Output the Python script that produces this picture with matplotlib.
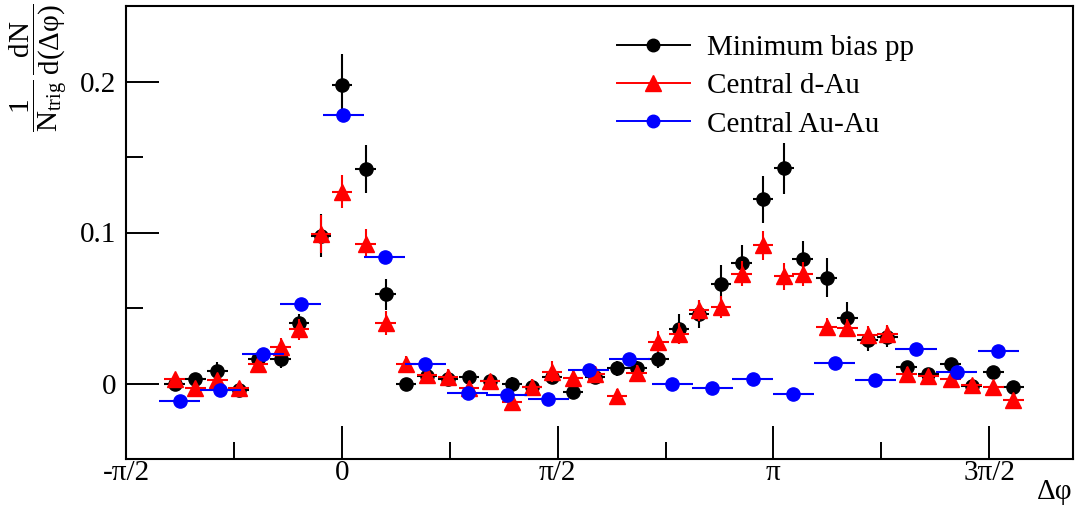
import numpy as np
import matplotlib.pyplot as plt
from matplotlib.lines import Line2D
from matplotlib.ticker import FixedLocator, MultipleLocator

plt.rcParams['font.family'] = ['Liberation Serif', 'DejaVu Serif']
plt.rcParams['mathtext.fontset'] = 'custom'
plt.rcParams['mathtext.rm'] = 'Liberation Serif'
plt.rcParams['mathtext.it'] = 'Liberation Serif:italic'

# delta phi bin centres (rad), pp and d-Au share the fine binning
x_fine = [-1.216, -1.065, -0.905, -0.750, -0.609, -0.446, -0.311, -0.151, 0.000, 0.173,
          0.320, 0.466, 0.619, 0.774, 0.927, 1.078, 1.240, 1.383, 1.529, 1.684,
          1.842, 2.004, 2.146, 2.303, 2.454, 2.601, 2.759, 2.910, 3.067, 3.218,
          3.354, 3.529, 3.679, 3.827, 3.970, 4.111, 4.269, 4.432, 4.585, 4.742, 4.888]

# Minimum bias pp
pp_y = [0.000, 0.003, 0.008, -0.004, 0.0165, 0.016, 0.040, 0.098, 0.198, 0.142,
        0.059, 0.000, 0.005, 0.003, 0.0044, 0.0015, 0.000, -0.002, 0.0044, -0.0055,
        0.0044, 0.010, 0.010, 0.016, 0.036, 0.046, 0.0656, 0.0795, 0.122, 0.1424,
        0.0825, 0.070, 0.0437, 0.0287, 0.031, 0.011, 0.006, 0.0128, -0.0018, 0.0077, -0.0022]
pp_err = [0.003, 0.003, 0.006, 0.003, 0.004, 0.006, 0.006, 0.014, 0.020, 0.016,
          0.0105, 0.003, 0.004, 0.004, 0.004, 0.004, 0.004, 0.004, 0.004, 0.004,
          0.005, 0.005, 0.005, 0.006, 0.010, 0.009, 0.013, 0.012, 0.0157, 0.017,
          0.012, 0.013, 0.0105, 0.007, 0.007, 0.004, 0.003, 0.004, 0.003, 0.003, 0.003]

# Central d-Au
dau_y = [0.003, -0.0027, 0.002, -0.003, 0.013, 0.024, 0.036, 0.099, 0.127, 0.0927,
         0.040, 0.013, 0.0055, 0.0044, -0.0033, 0.0015, -0.012, -0.0022, 0.0079, 0.0037,
         0.0066, -0.0085, 0.0070, 0.0276, 0.033, 0.0485, 0.0507, 0.0728, 0.0916, 0.071,
         0.0724, 0.0375, 0.0366, 0.032, 0.033, 0.0066, 0.0048, 0.0033, -0.0011, -0.0022, -0.011]
dau_err = [0.004, 0.004, 0.004, 0.004, 0.005, 0.006, 0.007, 0.0125, 0.011, 0.0095,
           0.008, 0.005, 0.005, 0.005, 0.005, 0.005, 0.006, 0.005, 0.007, 0.005,
           0.005, 0.005, 0.005, 0.007, 0.007, 0.007, 0.007, 0.008, 0.0097, 0.009,
           0.008, 0.006, 0.006, 0.006, 0.006, 0.004, 0.004, 0.004, 0.004, 0.004, 0.004]

# Central Au-Au (coarser binning)
x_auau = [-1.180, -0.883, -0.573, -0.299, 0.012, 0.311, 0.608, 0.915, 1.201, 1.502,
          1.798, 2.093, 2.406, 2.696, 2.990, 3.286, 3.587, 3.883, 4.179, 4.475, 4.778]
auau_y = [-0.0115, -0.0044, 0.0194, 0.0527, 0.178, 0.0836, 0.0127, -0.0062, -0.0073, -0.0104,
          0.0090, 0.0159, -0.0004, -0.0027, 0.0033, -0.0071, 0.0135, 0.0022, 0.0227, 0.0077, 0.0216]

fine_half = 0.075
coarse_half = 0.15

fig = plt.figure(figsize=(10.75, 5.08), dpi=100)
ax = fig.add_axes([126 / 1075, 49 / 508, 947 / 1075, 453 / 508])

ax.errorbar(x_fine, pp_y, yerr=pp_err, xerr=fine_half, fmt='o', color='black',
            ms=9.5, elinewidth=1.5, capsize=0, zorder=3)
ax.errorbar(x_fine, dau_y, yerr=dau_err, xerr=fine_half, fmt='^', color='#ff0000',
            ms=11, elinewidth=1.5, capsize=0, zorder=4)
ax.errorbar(x_auau, auau_y, xerr=coarse_half, fmt='o', color='#0000ff',
            ms=9.5, elinewidth=1.5, capsize=0, zorder=5)

ax.set_xlim(-np.pi / 2, 5.322)
ax.set_ylim(-0.05, 0.25)

ax.xaxis.set_major_locator(FixedLocator([-np.pi / 2, 0, np.pi / 2, np.pi, 1.5 * np.pi]))
ax.xaxis.set_minor_locator(FixedLocator([-np.pi / 4, np.pi / 4, 3 * np.pi / 4, 5 * np.pi / 4]))
ax.set_xticklabels(['-π/2', '0', 'π/2', 'π', '3π/2'])
ax.yaxis.set_major_locator(FixedLocator([0, 0.1, 0.2]))
ax.yaxis.set_minor_locator(MultipleLocator(0.05))
ax.set_yticklabels(['0', '0.1', '0.2'])

ax.tick_params(which='both', direction='in', top=False, right=False, width=1.4, labelsize=21)
ax.tick_params(which='major', length=24)
ax.tick_params(which='minor', length=12)
ax.tick_params(axis='x', which='major', pad=1)
ax.tick_params(axis='y', which='major', pad=7)
for s in ax.spines.values():
    s.set_linewidth(1.5)

fig.text(1.0 - 2 / 1075, 3 / 508, 'Δφ', ha='right', va='bottom', fontsize=21)
fig.text(38 / 1075, 1 - 3 / 508,
         r'$\dfrac{1}{\mathrm{N}_{\mathrm{trig}}}\,\dfrac{\mathrm{dN}}{\mathrm{d(Δφ)}}$',
         rotation=90, ha='center', va='top', fontsize=21)

handles = [Line2D([], [], color='black', marker='o', ms=9, lw=1.4),
           Line2D([], [], color='#ff0000', marker='^', ms=11, lw=1.4),
           Line2D([], [], color='#0000ff', marker='o', ms=9, lw=1.4)]
labels = ['Minimum bias pp', 'Central d-Au', 'Central Au-Au']
fig.legend(handles, labels, loc='upper left', bbox_to_anchor=(617 / 1075, 1 - 35 / 508),
           frameon=False, fontsize=21, handlelength=2.5, handletextpad=0.6,
           labelspacing=0.4, borderpad=0, borderaxespad=0)

fig.savefig('out.png', dpi=100)
